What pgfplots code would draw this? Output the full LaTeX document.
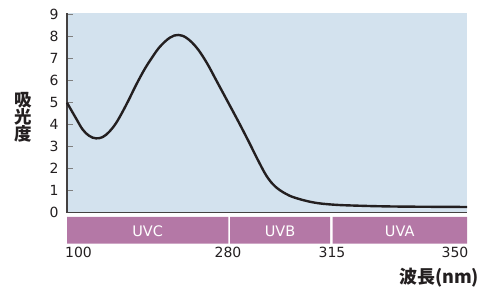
\documentclass[border=0pt]{standalone}
\usepackage{fontspec}
\setmainfont{DejaVu Sans}
\newfontfamily\cjk{Noto Sans CJK JP}
\usepackage{pgfplots}
\pgfplotsset{compat=1.18}
\definecolor{bgblue}{HTML}{D3E2EE}
\definecolor{band}{HTML}{B478A6}
\definecolor{ink}{HTML}{231F20}
\begin{document}
\begin{tikzpicture}
\useasboundingbox (0,0) rectangle (486pt,-291pt);
\begin{axis}[
  at={(67pt,-212.7pt)}, anchor=south west,
  scale only axis, width=400pt, height=200.2pt,
  xmin=0, xmax=400, ymin=0, ymax=9.1,
  clip=false,
  axis background/.style={fill=bgblue},
  axis x line*=bottom, axis y line*=left,
  axis line style={-, draw=ink!85, line width=1.1pt},
  ytick={0,1,...,9},
  xtick={11.5,161,265,388},
  xticklabels={100,280,315,350},
  x tick style={draw=none},
  y tick style={draw=gray, line width=0.9pt},
  tick align=inside,
  major tick length=6pt,
  /pgf/number format/assume math mode=true,
  tick label style={font=\fontsize{14}{14}\selectfont, text=ink},
  yticklabel style={xshift=-5pt},
  xticklabel style={yshift=-31pt},
  ylabel={吸\\光\\度},
  ylabel style={rotate=-90, align=center, font=\cjk\bfseries\fontsize{17.5}{17}\selectfont, text=ink, at={(axis description cs:-0.11,0.475)}, anchor=center},
  xlabel={波長(nm)},
  xlabel style={font=\cjk\bfseries\fontsize{18}{18}\selectfont, text=ink, at={(axis description cs:0.93,-0.326)}, anchor=center},
]
% UV bands
\addplot[fill=band, draw=none] coordinates {(0,-0.195) (161.3,-0.195) (161.3,-1.41) (0,-1.41) (0,-0.195)};
\addplot[fill=band, draw=none] coordinates {(163,-0.195) (263,-0.195) (263,-1.41) (163,-1.41) (163,-0.195)};
\addplot[fill=band, draw=none] coordinates {(265.7,-0.195) (400,-0.195) (400,-1.41) (265.7,-1.41) (265.7,-0.195)};
\node[text=white, font=\fontsize{14.5}{14.5}\selectfont] at (axis cs:80.7,-0.83) {UVC};
\node[text=white, font=\fontsize{14.5}{14.5}\selectfont] at (axis cs:213,-0.83) {UVB};
\node[text=white, font=\fontsize{14.5}{14.5}\selectfont] at (axis cs:332.7,-0.83) {UVA};
% absorbance curve
\addplot[ink, line width=2.4pt, smooth, tension=0.6] coordinates {
(0,5.0) (9,4.29) (15.7,3.78) (22.3,3.49) (29,3.38) (35.7,3.44) (42.3,3.68)
(49,4.07) (55.7,4.6) (62.3,5.18) (69,5.8) (77.3,6.5) (85,7.05) (93,7.55)
(103,7.96) (111.3,8.08) (119.7,7.94) (129.7,7.5) (139.7,6.82) (149.7,5.98)
(161.3,5.0) (171.3,4.15) (181.3,3.27) (191.3,2.36) (199.7,1.66) (208,1.2)
(218,0.88) (228,0.68) (246,0.47) (265,0.37) (290,0.32) (330,0.28) (400,0.26)
};
\end{axis}
\end{tikzpicture}
\end{document}
